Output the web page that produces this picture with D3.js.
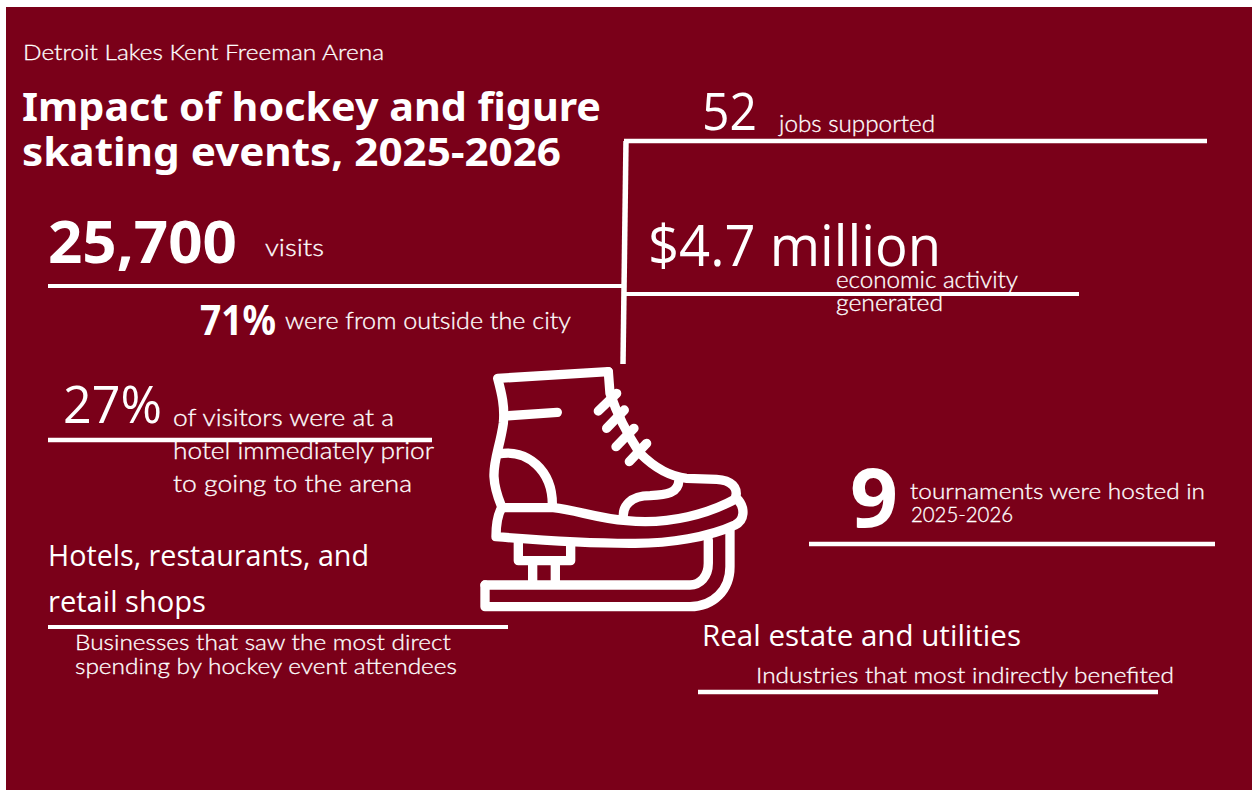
<!DOCTYPE html>
<html>
<head>
<meta charset="utf-8">
<title>Detroit Lakes Kent Freeman Arena</title>
<script src="https://cdn.jsdelivr.net/npm/d3@7"></script>
<style>
html, body { margin: 0; padding: 0; background: #fff; overflow: hidden; }
text { fill: #fff; font-family: Lato, sans-serif; }
.note { stroke: #fff; stroke-width: 0.3px; }
.head { font-family: "Noto Sans", sans-serif; font-weight: 700; }
.big { font-family: "Open Sans", sans-serif; }
</style>
</head>
<body>
<script>
// Text and numbers
const kicker = "Detroit Lakes Kent Freeman Arena";
const titleLines = ["Impact of hockey and figure", "skating events, 2025-2026"];
const stats = ["25,700", "71%", "27%", "52", "$4.7 million", "9"];
const statNotes = ["visits", "were from outside the city", "jobs supported", "economic activity", "generated"];
const hotelNote = ["of visitors were at a", "hotel immediately prior", "to going to the arena"];
const tournamentNote = ["tournaments were hosted in", "2025-2026"];
const directHead = ["Hotels, restaurants, and", "retail shops"];
const directNote = ["Businesses that saw the most direct", "spending by hockey event attendees"];
const indirectHead = "Real estate and utilities";
const indirectNote = "Industries that most indirectly benefited";

const width = 1252;
const height = 790;
const bg = "#7a0019";

const svg = d3.select("body").append("svg").attr("width", width).attr("height", height).style("display", "block");

svg.append("rect").attr("x", 6).attr("y", 7).attr("width", width - 6).attr("height", height - 7).attr("fill", bg);

// Rules: x1, y1, x2, y2, stroke width
const rules = [
	[48, 286, 624, 286, 4],
	[623, 364, 626, 141, 5.5],
	[624, 141, 1207, 141, 4.5],
	[624, 294, 1079, 294, 4],
	[48, 440, 432, 440, 4.5],
	[48, 627, 508, 627, 4],
	[809, 544, 1215, 544, 4.5],
	[698, 692, 1158, 692, 4.5],
];

svg.selectAll("line.rule")
	.data(rules)
	.enter()
	.append("line")
	.attr("class", "rule")
	.attr("x1", (d) => d[0])
	.attr("y1", (d) => d[1])
	.attr("x2", (d) => d[2])
	.attr("y2", (d) => d[3])
	.attr("stroke", "#fff")
	.attr("stroke-width", (d) => d[4]);

// Text placement: string, x, baseline, size, weight, class, target width
const texts = [
	[kicker, 23, 60, 22, 300, "note", 361],
	[titleLines[0], 22, 121, 40, 700, "head", 579],
	[titleLines[1], 22, 166, 40, 700, "head", 539],
	[stats[0], 48, 263, 60, 700, "head", 189],
	[statNotes[0], 265, 256, 24, 300, "note", 59],
	[stats[1], 200, 335, 41, 700, "head", 76],
	[statNotes[1], 285, 329, 23, 300, "note", 286],
	[stats[2], 63, 423, 52, 400, "big", 99],
	[hotelNote[0], 173, 426, 23, 300, "note", 221],
	[hotelNote[1], 173, 459, 23, 300, "note", 261],
	[hotelNote[2], 173, 492, 23, 300, "note", 239],
	[directHead[0], 48, 566, 30, 400, "big", 321],
	[directHead[1], 48, 612, 30, 400, "big", 158],
	[directNote[0], 75, 650, 22, 300, "note", 376],
	[directNote[1], 75, 674, 22, 300, "note", 382],
	[stats[3], 702, 130, 52, 400, "big", 55],
	[statNotes[2], 779, 132, 23, 300, "note", 156],
	[stats[4], 648, 266, 57, 400, "big", 293],
	[statNotes[3], 836, 288, 23, 300, "note", 182],
	[statNotes[4], 836, 311, 23, 300, "note", 107],
	[stats[5], 850, 527, 82, 700, "head", 48],
	[tournamentNote[0], 910, 499, 21, 300, "note", 295],
	[tournamentNote[1], 911, 522, 21, 300, "note", 102],
	[indirectHead, 702, 646, 30, 400, "big", 319],
	[indirectNote, 756, 683, 22, 300, "note", 418],
];

svg.selectAll("text.label")
	.data(texts)
	.enter()
	.append("text")
	.attr("class", (d) => `label ${d[5]}`)
	.attr("x", (d) => d[1])
	.attr("y", (d) => d[2])
	.attr("font-size", (d) => d[3])
	.attr("font-weight", (d) => d[4])
	.attr("textLength", (d) => d[6])
	.attr("lengthAdjust", "spacingAndGlyphs")
	.text((d) => d[0]);

// Skate icon, traced in zoomed pixels (3x) from the top left of its box
const skate = [
	"M415,65 L83,85 C95,130 105,170 100,220 C90,290 70,330 72,380 C74,420 85,445 95,470",
	"M105,198 L262,187",
	"M85,312 C170,295 250,360 247,470",
	"M95,473 L250,473 C320,480 380,505 470,512 C600,525 720,490 800,445",
	"M95,473 C80,500 78,530 78,560 C200,570 350,580 480,580 C600,582 720,560 795,525 C825,510 825,475 805,450",
	"M415,65 L420,130 C440,190 470,250 510,310 C550,350 600,380 650,385 L740,388 C785,390 805,415 797,440",
	"M627,390 C625,430 590,435 540,437 C480,437 458,470 460,500",
	"M385,183 L440,130", "M410,235 L463,180", "M438,290 L492,235", "M478,335 L530,280",
	"M145,575 L145,632 L302,632 L302,580",
	"M188,632 V700", "M256,632 V700",
	"M45,705 H660 C690,705 715,680 715,640 V570",
	"M45,705 V770 H660 C730,770 780,720 780,650 V540",
];

svg.append("g")
	.attr("transform", "translate(470,350) scale(0.3333)")
	.selectAll("path")
	.data(skate)
	.enter()
	.append("path")
	.attr("d", (d) => d)
	.attr("fill", "none")
	.attr("stroke", "#fff")
	.attr("stroke-width", 28)
	.attr("stroke-linecap", "round")
	.attr("stroke-linejoin", "round");
</script>
</body>
</html>
